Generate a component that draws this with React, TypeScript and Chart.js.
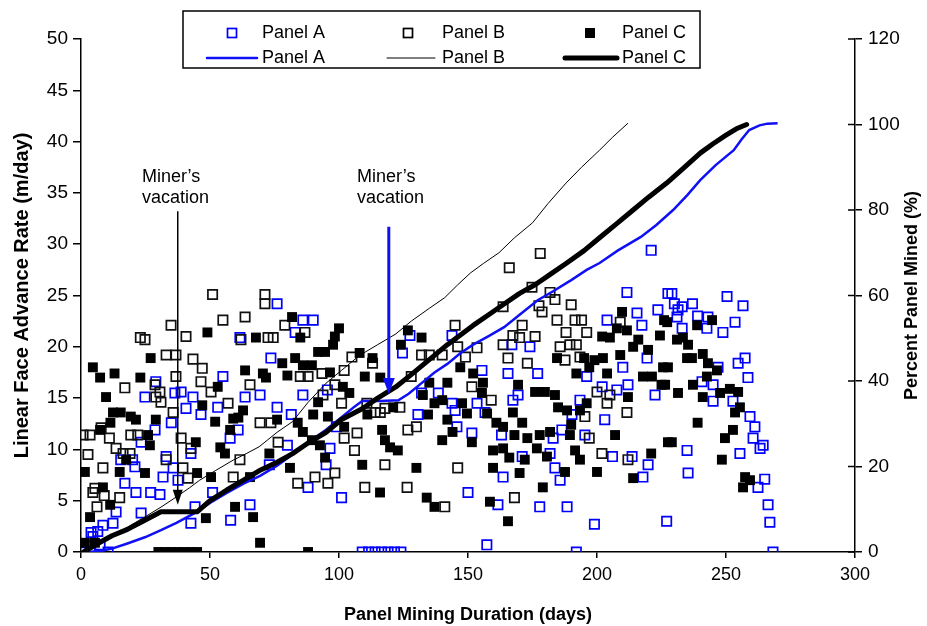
import React, { useEffect, useRef } from 'react';
import { Chart, registerables } from 'chart.js';

Chart.register(...registerables);

const FONT = '"Liberation Sans", Arial, Helvetica, sans-serif';

// ---- axis ticks ----
const xTickValues = [0, 50, 100, 150, 200, 250, 300];
const yLeftTickValues = [0, 5, 10, 15, 20, 25, 30, 35, 40, 45, 50];
const yRightTickValues = [0, 20, 40, 60, 80, 100, 120];

// ---- legend / annotation text ----
const seriesNames = ['Panel A', 'Panel B', 'Panel C'];
const annotationLines = ['Miner\u2019s', 'vacation'];

// ---- scatter: [day, linear face advance rate m/day] ----
const panelA: [number, number][] = [
  [0.4, 0], [3.5, 0], [7.4, 0.7], [10.5, 0], [4.6, 1.5], [3.9, 1.9], [6.5, 2.0], [8.5, 2.6], [12.4, 2.8], [13.6, 3.9],
  [17, 6.7], [21.3, 5.8], [23.3, 3.8], [27, 5.8], [30.6, 5.6], [31.8, 7.3], [37.6, 7], [35.7, 8.2], [33, 9.3], [20.9, 8.3],
  [20, 9], [15.4, 9], [23.3, 10.7], [28.7, 11.9], [35, 12.6], [24.8, 15.1], [29, 16.6], [36.4, 15.5], [38.8, 15.6], [40.7, 14],
  [43.4, 15.1], [46.5, 13.4], [42.6, 9.6], [44.2, 4.4], [42.6, 2.8], [51, 5.8], [53, 14.1], [55, 17.1], [57.8, 11.1], [60.9, 11.9],
  [61.6, 20.9], [63.6, 15.1], [69.4, 15.3], [65.5, 4.6], [58, 3.1], [73, 8.5], [73.6, 18.9], [76, 24.2], [86, 22.6], [90, 22.6],
  [83, 21.4], [76, 14.1], [81.5, 13.4], [99, 12.2], [80, 10.4], [96.5, 10.1], [95, 8.5], [88, 6.3], [101, 5.3], [86, 15.3],
  [95.5, 15.8], [124.6, 19.4], [127.5, 21.1], [143.8, 21.1], [132, 15.5], [138.5, 15.5], [143.8, 14.5], [145, 13.8], [130.6, 13.4], [145.7, 12.2],
  [151.5, 11.6], [150, 5.8], [109, 0], [111.5, 0], [114, 0], [116.5, 0], [119, 0], [121.5, 0], [124, 0],
  [221, 29.4], [211.6, 25.3], [215.5, 23.3], [223.6, 23.6], [203.9, 22.6], [217.4, 22.1], [227.5, 25.2], [174, 20], [167, 20.2], [165.5, 17.4],
  [177, 17.4], [196, 17.1], [210, 18], [219.4, 18.9], [155.4, 17.7], [169.4, 15.3], [167.4, 14.8], [202, 16.1], [207.7, 15.8], [212, 16.3],
  [222.5, 15.3], [193.4, 14.8], [153.5, 14.5], [156.6, 13.6], [190.3, 13.4], [203, 12.9], [163, 11.4], [183, 11.1], [186.4, 11.9], [195.3, 11.4],
  [171, 9.3], [181.8, 9.6], [206, 9.3], [213.6, 9.3], [219.8, 8.5], [183.7, 8.2], [163.6, 7.3], [185.7, 7.0], [217.8, 7.3], [161.6, 4.6],
  [177.8, 4.4], [188.4, 4.4], [199, 2.7], [227, 3], [157.3, 0.7], [192, 0],
  [229, 25.2], [230, 24.2], [233, 23.9], [237, 24.2], [231.4, 23.6], [231, 22.9], [239, 23], [243, 22.9], [250.4, 24.9], [256.6, 24],
  [253.5, 22.4], [248.8, 21.4], [242.6, 21.8], [233, 21.8], [257.4, 18.9], [254.7, 18.4], [246.9, 18], [258.5, 17], [240.7, 16.6], [245, 16.3],
  [245, 14.7], [252.7, 14.7], [259.3, 13.2], [261.2, 12.2], [260.5, 11.1], [263.2, 10.1], [264.4, 10.4], [255.4, 9.6], [234.9, 9.9], [235.3, 7.7],
  [265, 7.1], [262.4, 6.3], [266.3, 4.6], [267, 2.9], [268.2, 0],
];

const panelB: [number, number][] = [
  [0.8, 11.4], [3.5, 11.4], [2.7, 9.5], [8.5, 8.2], [5.4, 6.2], [4.6, 5.8], [6.2, 4.4], [9, 5.5], [15, 5.3], [7.8, 12.1],
  [11, 11.1], [13.6, 10.1], [19.3, 11.4], [22, 11.4], [17, 16], [19, 9.6], [16.3, 9.6], [24.8, 20.7], [23, 20.9], [28.7, 16.3],
  [30.6, 15.6], [29, 15.1], [34.9, 22.1], [33, 19.2], [36.8, 19.2], [40.7, 21], [43.4, 18.8], [47, 17.9], [46.5, 16.6], [36.8, 17.1],
  [31, 14.6], [35.7, 13.6], [38.8, 11.1], [42.6, 10.1], [33, 9.0], [39.5, 8.2], [41.5, 7.2], [51, 25.1], [55, 22.6], [63.6, 22.9],
  [71.3, 25.1], [71.3, 24.2], [62, 20.7], [72.5, 20.9], [50.4, 15.6], [57, 14.5], [65.5, 16.3], [61.6, 9], [59, 7.3], [69.4, 12.6],
  [73.6, 12.6], [74.5, 20.9],
  [79, 22.1], [86.8, 21.4], [105, 19], [113, 18.4], [93.4, 17.4], [85, 17.1], [88, 17.1], [102, 17.7], [98.4, 16.3], [93.8, 15.3],
  [101, 14.5], [110.8, 14.5], [117.8, 14], [123.6, 14.1], [114, 13.6], [116, 13.6], [107, 11.6], [76.4, 10.7], [102, 11.1], [106, 9.9],
  [90.7, 7.3], [98.4, 7.7], [84, 6.7], [95.7, 6.7], [117.8, 8.5], [126.7, 11.9], [130, 12.2], [110, 6.3], [126.4, 6.3], [141, 4.4],
  [146, 8.2], [145, 22.1], [132, 19.2], [135, 19.2], [140, 19.2], [146, 20], [149, 19], [151.5, 16.1], [128, 17.1],
  [178, 29.1], [166, 27.7], [174.8, 25.8], [181.8, 25.3], [183.7, 24.6], [190, 24.1], [163.6, 23.9], [178.7, 23.4], [177.5, 24.0], [184.5, 22.6],
  [191.5, 22.6], [194, 22.6], [171, 22.1], [188, 21.4], [196, 21.4], [167.4, 21.1], [170, 20.9], [176, 21], [163.6, 20.2], [189.5, 20.2],
  [192, 20.2], [185.7, 20], [165.5, 18.9], [173, 18.4], [187.6, 18.7], [193.4, 19], [200, 15.6], [205, 15.3], [203.9, 14.5], [211.6, 13.6],
  [197, 11.1], [195.3, 13.2], [201.9, 9.6], [212, 9], [168, 5.3], [153.5, 19.9], [159, 14.8], [209, 22.4],
];

const panelC: [number, number][] = [
  [4.6, 18.0], [7.4, 17], [13, 17.4], [9.7, 15.1], [23, 17], [27, 18.9], [49, 21.4], [12.4, 13.6], [15.4, 13.6], [19.3, 13.2],
  [21.3, 12.9], [29, 12.9], [11.4, 12.6], [7.4, 11.9], [26, 11.4], [26.7, 10.4], [17.5, 9], [1.5, 7.8], [15, 7.8], [24.8, 7.7],
  [8.5, 6.3], [11.3, 4.6], [3.5, 3.4], [1.5, 0.9], [5.4, 0.9], [69.4, 0.9], [47, 14.3], [44.5, 10.7], [52, 12.7], [53, 16.1],
  [57.8, 11.9], [54, 10.2], [55.8, 9.6], [59, 13], [61, 13.1], [62.8, 13.8], [63.6, 17.7], [67.8, 20.9], [70.5, 17.4], [71.7, 17.0],
  [45, 7.7], [50.4, 7.3], [48.4, 3.3], [59.7, 4.4], [66.7, 3.4], [65.5, 7.3], [73, 9.6],
  [30, 0], [32.5, 0], [35, 0], [37.5, 0], [40, 0], [42.5, 0], [45, 0], [88, 0],
  [81.8, 22.9], [85, 20.9], [100, 21.8], [98.4, 21], [97.7, 20.2], [94.6, 19.5], [91.9, 19.5], [83, 18.9], [78, 18.4], [86, 18.2],
  [89.5, 18.2], [108, 19.4], [113, 18.9], [96.5, 17.5], [80, 17.2], [110, 17.1], [116, 17], [101.5, 16.1], [104, 15.5], [91.9, 14.6],
  [121, 14.1], [111, 13.4], [90, 13.4], [95.7, 13.2], [76, 12.9], [84, 12.6], [86, 11.7], [102, 12.2], [89.5, 10.9], [92.6, 10.4],
  [94.6, 9.2], [81, 8.2], [109, 8.5], [116.7, 11.9], [117.8, 10.9], [119.8, 10.2], [122.8, 9.9], [115.9, 5.8], [130, 8.2], [134, 5.3],
  [137, 4.4], [126.7, 21.6], [132, 20.9], [124, 20.2], [147, 18], [142, 16.5], [135, 16.5], [132.5, 15.3], [140, 14.8], [147.7, 14.5],
  [137, 14.5], [149.6, 13.5], [134.5, 13.4], [142, 12.9], [144, 11.7], [140, 10.9], [151.5, 10.7],
  [209.7, 23.4], [207.7, 21.8], [202, 21], [205, 20.9], [211.6, 21.6], [216, 20.7], [214, 20], [219.8, 19.7], [224.4, 21.1], [226, 22.6],
  [195, 18.9], [199, 18.7], [202.3, 18.9], [184.5, 18.9], [197, 18], [203.9, 17.4], [209, 19.2], [192, 17.4], [217.8, 17.1], [221.3, 17.1],
  [225.6, 18], [225, 16.3], [152, 17.4], [155.8, 16.5], [155.4, 15.5], [169.4, 16.3], [176, 15.6], [179.8, 15.6], [183.7, 15.3], [212, 15.1],
  [196, 14.5], [184.9, 14.1], [188.4, 13.8], [193.4, 13.8], [167.4, 13.6], [157.4, 13.5], [161, 12.6], [171, 12.6], [163.6, 12.2], [190, 12.4],
  [168, 11.4], [173, 11.1], [177.8, 11.4], [181.8, 11.7], [189.5, 11.4], [207, 11.4], [159.7, 9.9], [163.6, 10.1], [176.7, 10.1], [191.5, 9.9],
  [166, 9.2], [172, 9], [180.6, 9.3], [193.4, 9], [221, 9.6], [159.7, 8.2], [170, 7.7], [187.6, 7.8], [200, 7.8], [214, 7.2],
  [179, 6.3], [158.5, 4.9], [165.5, 3.0], [227.5, 10.7],
  [227.2, 22.4], [238.8, 22.1], [244.6, 22.6], [231, 20.7], [233.3, 20.9], [235.3, 20.2], [234.9, 18.9], [236.8, 18.9], [241, 19.3], [243, 18.4],
  [246.5, 17.7], [242.6, 17.1], [227.5, 18], [226.4, 16.3], [237.2, 16.3], [231.4, 15.5], [241, 15.1], [247.7, 15.5], [251.5, 15.9], [254.7, 15.6],
  [255.4, 14.1], [253.5, 13.6], [239, 12.6], [252.7, 11.9], [249.6, 11.1], [229, 10.7], [248.4, 9], [257.4, 7.3], [259.3, 7.0], [256.6, 6.3],
];

// ---- cumulative lines: [day, percent panel mined] ----
const panelALine: [number, number][] = [
  [3, 0], [8, 0.3], [12, 0.8], [18, 2], [25, 3.5], [31, 5.1], [37, 6.8], [44, 9.1], [50, 11.5], [56.5, 13.8],
  [63, 16], [69.4, 17.8], [76, 20.2], [82, 22.8], [88, 25.6], [95, 28.6], [101, 31.5], [106, 34], [109, 35.3], [116, 35.3],
  [123, 35.5], [127, 37], [132, 39.5], [137, 42], [142, 44], [147, 46.5], [152, 48.5], [158, 50.5], [164, 52.6], [170, 55.5],
  [177, 58.9], [183, 61], [190, 63.6], [196, 66], [201, 67.6], [208, 70.5], [217, 73.7], [223, 76.5], [229.5, 80], [235, 83.5],
  [240, 87], [246, 90.5], [253, 94], [256, 96.5], [259, 98.7], [263, 99.8], [266, 100.2], [270, 100.3],
];

const panelBLine: [number, number][] = [
  [1, 0], [10, 3], [18, 5.8], [25, 8.3], [31, 10.5], [37, 12.9], [42, 15], [46, 16.8], [52, 19], [59, 21.5],
  [64, 23], [69, 24.6], [76, 28], [82, 30.5], [88, 35], [95, 39.5], [101, 42.5], [108, 46], [115, 48.5], [122, 51],
  [128, 54], [135, 57], [141, 59.5], [146, 62.5], [151, 65.3], [156, 67.5], [162, 70], [168, 73.5], [175, 77], [181, 81.5],
  [188, 86.3], [194, 90], [201, 94], [206, 97], [212, 100.3],
];

const panelCLine: [number, number][] = [
  [1, 0], [6, 1.8], [12, 3.8], [18, 5.3], [24, 7.2], [31, 9.4], [38, 9.4], [45, 9.4], [50, 12], [56.5, 14.5],
  [63, 16.8], [69, 19], [76, 21], [82, 23], [88, 25.5], [95, 28], [101, 31], [109, 33.5], [115, 36], [122, 38.6],
  [128, 41.5], [135, 45], [142, 48.5], [152, 53], [158, 55.5], [164, 58], [170, 60.5], [176, 62.5], [182, 65], [188, 67.5],
  [195, 70.5], [201, 73.5], [208, 77], [214, 80], [220, 83], [227, 86.3], [233, 89.5], [240, 93.3], [245, 95.5], [250, 97.5],
  [254, 99], [258, 100],
];

// annotations: arrow x (day), arrow top / tip (m/day), text left (day), text rows (m/day)
const blackArrow = { x: 37.5, top: 33.2, tip: 4.6, textX: 23.6, textY: [36.5, 34.5] };
const blueArrow = { x: 119.3, top: 31.7, tip: 15.4, textX: 107, textY: [36.5, 34.5] };

const BLUE = '#1010f5';
const toXY = (arr: [number, number][]) => arr.map(([x, y]) => ({ x, y }));

function drawArrow(ctx: CanvasRenderingContext2D, x: number, yTop: number, yTip: number, color: string, lw: number, hw: number, hh: number) {
  ctx.save();
  ctx.strokeStyle = color;
  ctx.fillStyle = color;
  ctx.lineWidth = lw;
  ctx.beginPath();
  ctx.moveTo(x, yTop);
  ctx.lineTo(x, yTip - hh + 2);
  ctx.stroke();
  ctx.beginPath();
  ctx.moveTo(x, yTip);
  ctx.lineTo(x - hw, yTip - hh);
  ctx.lineTo(x + hw, yTip - hh);
  ctx.closePath();
  ctx.fill();
  ctx.restore();
}

const decorPlugin = {
  id: 'decor',
  afterDraw(chart: any) {
    const { ctx, scales } = chart;
    const xs = scales.x;
    const yl = scales.y;
    const yr = scales.y2;

    // inward part of right axis ticks
    ctx.save();
    ctx.strokeStyle = '#000';
    ctx.lineWidth = 1.5;
    yRightTickValues.forEach((v) => {
      const py = yr.getPixelForValue(v);
      ctx.beginPath();
      ctx.moveTo(yr.left - 7, py);
      ctx.lineTo(yr.left, py);
      ctx.stroke();
    });
    ctx.restore();

    // right axis title (reads bottom-to-top)
    ctx.save();
    ctx.translate(912, (yr.top + yr.bottom) / 2);
    ctx.rotate(-Math.PI / 2);
    ctx.fillStyle = '#000';
    ctx.font = `bold 18px ${FONT}`;
    ctx.textAlign = 'center';
    ctx.textBaseline = 'middle';
    ctx.fillText('Percent Panel Mined (%)', 0, 0);
    ctx.restore();

    // annotations
    ctx.save();
    ctx.fillStyle = '#000';
    ctx.font = `18px ${FONT}`;
    ctx.textAlign = 'left';
    ctx.textBaseline = 'middle';
    [blackArrow, blueArrow].forEach((a) => {
      annotationLines.forEach((t, i) => {
        ctx.fillText(t, xs.getPixelForValue(a.textX), yl.getPixelForValue(a.textY[i]));
      });
    });
    ctx.restore();
    drawArrow(ctx, xs.getPixelForValue(blackArrow.x), yl.getPixelForValue(blackArrow.top), yl.getPixelForValue(blackArrow.tip), '#000', 1.5, 5, 15);
    drawArrow(ctx, xs.getPixelForValue(blueArrow.x), yl.getPixelForValue(blueArrow.top), yl.getPixelForValue(blueArrow.tip), BLUE, 3, 6, 16);

    // legend
    const bx0 = 183, by0 = 11, bx1 = 700, by1 = 68;
    const row1 = 33, row2 = 58;
    ctx.save();
    ctx.fillStyle = '#fff';
    ctx.fillRect(bx0, by0, bx1 - bx0, by1 - by0);
    ctx.strokeStyle = '#000';
    ctx.lineWidth = 1.5;
    ctx.strokeRect(bx0, by0, bx1 - bx0, by1 - by0);
    ctx.font = `18px ${FONT}`;
    ctx.fillStyle = '#000';
    ctx.textAlign = 'left';
    ctx.textBaseline = 'middle';
    const textX = [262, 442, 622];
    const markX = [232, 408, 590];
    const lineX: [number, number][] = [[207, 257], [387, 435], [565, 617]];
    const lineStyles = [
      { c: BLUE, w: 2.5 },
      { c: '#000', w: 1 },
      { c: '#000', w: 5 },
    ];
    seriesNames.forEach((name, i) => {
      ctx.fillText(name, textX[i], row1);
      ctx.fillText(name, textX[i], row2);
      const s = 9;
      if (i === 2) {
        ctx.fillStyle = '#000';
        ctx.fillRect(markX[i] - 5, row1 - 5, 10, 10);
      } else {
        ctx.strokeStyle = i === 0 ? '#0000ff' : '#000';
        ctx.lineWidth = 1.7;
        ctx.strokeRect(markX[i] - s / 2, row1 - s / 2, s, s);
      }
      ctx.fillStyle = '#000';
      ctx.strokeStyle = lineStyles[i].c;
      ctx.lineWidth = lineStyles[i].w;
      ctx.lineCap = 'round';
      ctx.beginPath();
      ctx.moveTo(lineX[i][0], row2);
      ctx.lineTo(lineX[i][1], row2);
      ctx.stroke();
    });
    ctx.restore();
  },
};

export default function App() {
  const ref = useRef<HTMLCanvasElement>(null);
  useEffect(() => {
    const xTickFont = { family: FONT, size: 18 };
    const yTickFont = { family: FONT, size: 19 };
    const chart = new Chart(ref.current as HTMLCanvasElement, {
      type: 'scatter',
      data: {
        datasets: [
          {
            label: 'Panel C line', data: toXY(panelCLine), yAxisID: 'y2', showLine: true,
            borderColor: '#000', borderWidth: 5, pointRadius: 0, borderCapStyle: 'round', borderJoinStyle: 'round', tension: 0,
          },
          {
            label: 'Panel A line', data: toXY(panelALine), yAxisID: 'y2', showLine: true,
            borderColor: BLUE, borderWidth: 2.5, pointRadius: 0, tension: 0,
          },
          {
            label: 'Panel B line', data: toXY(panelBLine), yAxisID: 'y2', showLine: true,
            borderColor: '#000', borderWidth: 1, pointRadius: 0, tension: 0,
          },
          {
            label: 'Panel C', data: toXY(panelC), yAxisID: 'y', pointStyle: 'rect', pointRadius: 7,
            backgroundColor: '#000', borderColor: '#000', borderWidth: 0,
          },
          {
            label: 'Panel B', data: toXY(panelB), yAxisID: 'y', pointStyle: 'rect', pointRadius: 6.6,
            backgroundColor: 'rgba(0,0,0,0)', borderColor: '#111', borderWidth: 1.7,
          },
          {
            label: 'Panel A', data: toXY(panelA), yAxisID: 'y', pointStyle: 'rect', pointRadius: 6.6,
            backgroundColor: 'rgba(0,0,0,0)', borderColor: '#0000ff', borderWidth: 1.7,
          },
        ] as any,
      },
      options: {
        animation: false,
        responsive: false,
        devicePixelRatio: 1,
        layout: { padding: { top: 39, left: 0, right: 0, bottom: 0 } },
        plugins: { legend: { display: false }, tooltip: { enabled: false } },
        scales: {
          x: {
            type: 'linear', position: 'bottom', min: 0, max: 300,
            afterBuildTicks: (s: any) => { s.ticks = xTickValues.map((v) => ({ value: v })); },
            afterFit: (s: any) => { s.height = 74; },
            ticks: { color: '#000', font: xTickFont, padding: 6, maxRotation: 0, autoSkip: false },
            grid: { display: true, drawOnChartArea: false, drawTicks: true, tickLength: 6, color: '#000', lineWidth: 1.5 },
            border: { display: true, color: '#000', width: 1.5 },
            title: { display: true, text: 'Panel Mining Duration (days)', color: '#000', font: { family: FONT, size: 18, weight: 'bold' }, padding: { top: 0, bottom: 0 } },
          },
          y: {
            type: 'linear', position: 'left', min: 0, max: 50,
            afterBuildTicks: (s: any) => { s.ticks = yLeftTickValues.map((v) => ({ value: v })); },
            afterFit: (s: any) => { s.width = 81; },
            ticks: { color: '#000', font: yTickFont, padding: 5 },
            grid: { display: true, drawOnChartArea: false, drawTicks: true, tickLength: 8, color: '#000', lineWidth: 1.5 },
            border: { display: true, color: '#000', width: 1.5 },
            title: { display: true, text: 'Linear Face Advance Rate (m/day)', color: '#000', font: { family: FONT, size: 20, weight: 'bold' }, padding: { top: 10, bottom: 0 } },
          },
          y2: {
            type: 'linear', position: 'right', min: 0, max: 120,
            afterBuildTicks: (s: any) => { s.ticks = yRightTickValues.map((v) => ({ value: v })); },
            afterFit: (s: any) => { s.width = 72; },
            ticks: { color: '#000', font: yTickFont, padding: 6 },
            grid: { display: true, drawOnChartArea: false, drawTicks: true, tickLength: 7, color: '#000', lineWidth: 1.5 },
            border: { display: true, color: '#000', width: 1.5 },
          },
        },
      } as any,
      plugins: [decorPlugin],
    });
    return () => chart.destroy();
  }, []);
  return (
    <div style={{ position: 'fixed', left: 0, top: 0, width: 927, height: 626, background: '#fff' }}>
      <canvas ref={ref} width={927} height={626} style={{ width: 927, height: 626, display: 'block' }} />
    </div>
  );
}
